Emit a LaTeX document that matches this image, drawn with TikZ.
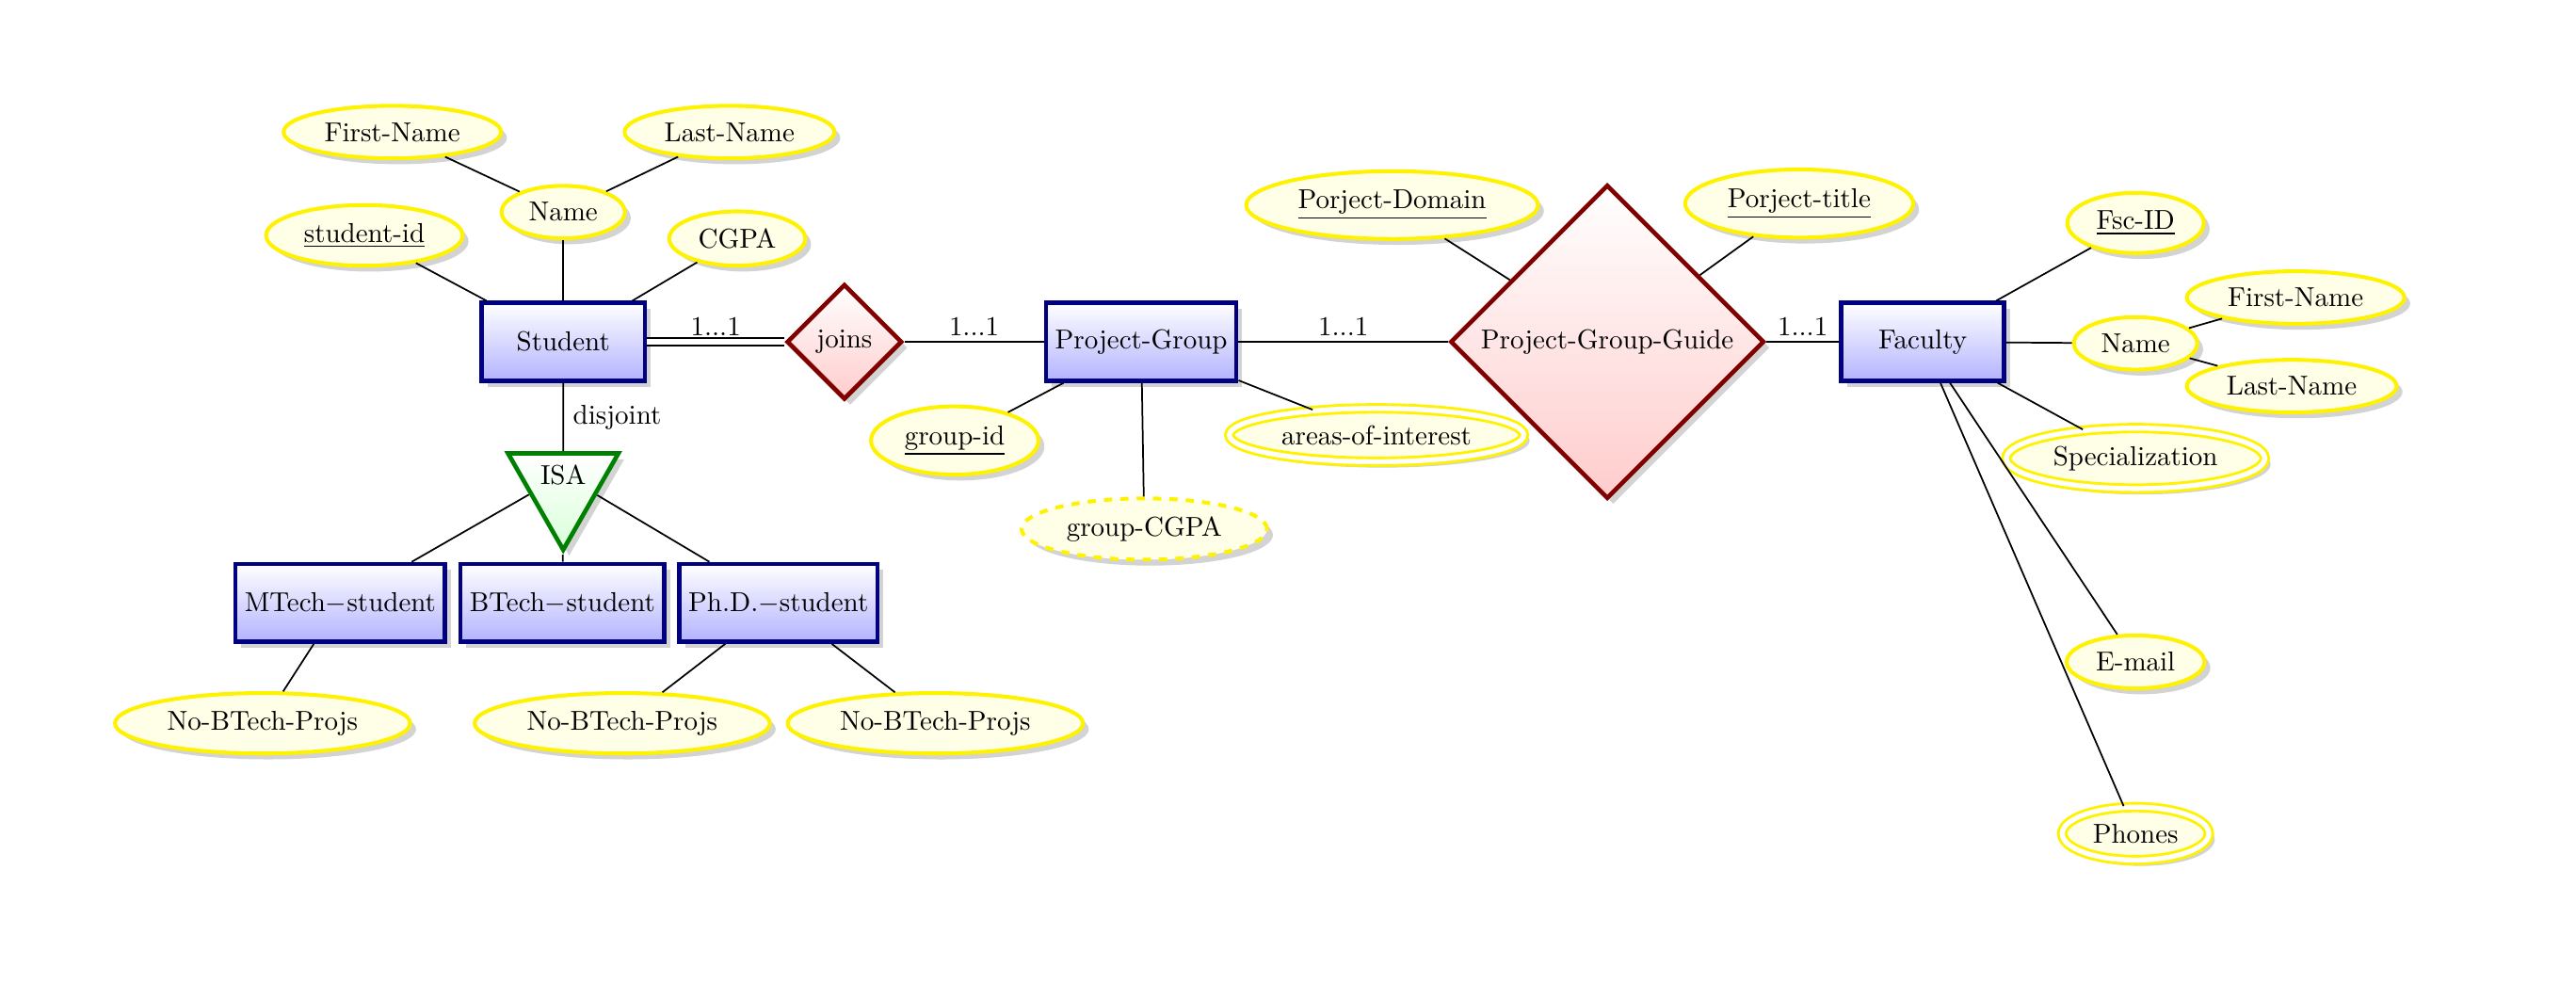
\documentclass[tikz,border=0pt]{standalone}
\usepackage{tikz}
\usetikzlibrary{shapes.geometric, shadows, positioning}

\begin{document}
\begin{tikzpicture}[
  con/.style={semithick},
  entity/.style={rectangle, draw=blue!50!black, line width=1.6pt,
                 top color=white, bottom color=blue!30,
                 drop shadow={opacity=0.35},
                 minimum width=2.1cm, minimum height=1cm},
  attr/.style={ellipse, draw=yellow, line width=1.4pt, fill=yellow!10,
               drop shadow={opacity=0.35}},
  multi/.style={attr, double, double distance=1.8pt, line width=1pt},
  derived/.style={attr, dashed},
  rel/.style={diamond, draw=red!50!black, line width=1.6pt,
              top color=white, bottom color=red!20,
              drop shadow={opacity=0.35}},
  isa/.style={isosceles triangle, isosceles triangle stretches,
              minimum width=1.42cm, minimum height=1.24cm,
              shape border rotate=-90, draw=green!50!black, line width=1.6pt,
              top color=white, bottom color=green!15,
              drop shadow={opacity=0.35}, inner sep=1pt},
  card/.style={above, inner sep=2pt},
]
\useasboundingbox (0,0) rectangle (33.16,-12.65);

\node[entity] (student) at (7.25,-4.40)  {Student};
\node[rel]    (joins)   at (10.87,-4.40) {joins};
\node[entity] (pgroup)  at (14.69,-4.40) {Project-Group};
\node[rel]    (guide)   at (20.69,-4.40) {Project-Group-Guide};
\node[entity] (faculty) at (24.75,-4.40) {Faculty};

\node[attr] (sname)  at (7.25,-2.73) {Name};
\node[attr] (sfirst) at (5.05,-1.70) {First-Name};
\node[attr] (slast)  at (9.39,-1.70) {Last-Name};
\node[attr] (sid)    at (4.69,-3.03) {\underline{student-id}};
\node[attr] (cgpa)   at (9.49,-3.07) {CGPA};

\node[isa, anchor=apex] (isa) at (7.25,-7.15) {ISA};
\node[entity] (mtech) at (4.38,-7.76)  {MTech$-$student};
\node[entity] (btech) at (7.24,-7.76)  {BTech$-$student};
\node[entity] (phd)   at (10.02,-7.76) {Ph.D.$-$student};

\node[attr] (mproj)  at (3.38,-9.31)  {No-BTech-Projs};
\node[attr] (pproja) at (8.01,-9.31)  {No-BTech-Projs};
\node[attr] (pprojb) at (12.04,-9.31) {No-BTech-Projs};

\node[attr]    (gid)   at (12.29,-5.67) {\underline{group-id}};
\node[derived] (gcgpa) at (14.73,-6.81) {group-CGPA};
\node[multi]   (areas) at (17.72,-5.60) {areas-of-interest};

\node[attr] (domain) at (17.92,-2.64) {\underline{Porject-Domain}};
\node[attr] (title)  at (23.16,-2.62) {\underline{Porject-title}};

\node[attr]  (fsc)    at (27.49,-2.87)  {\underline{Fsc-ID}};
\node[attr]  (fname)  at (27.49,-4.42)  {Name};
\node[attr]  (ffirst) at (29.55,-3.83)  {First-Name};
\node[attr]  (flast)  at (29.50,-4.97)  {Last-Name};
\node[multi] (spec)   at (27.49,-5.90)  {Specialization};
\node[attr]  (email)  at (27.49,-8.52)  {E-mail};
\node[multi] (phones) at (27.49,-10.73) {Phones};

\draw[con] (sname) -- (sfirst);
\draw[con] (sname) -- (slast);
\draw[con] (student) -- (sname);
\draw[con] (student) -- (sid);
\draw[con] (student) -- (cgpa);

\draw[con, double, double distance=2pt] (student) -- node[card]{1...1} (joins);
\draw[con] (joins)  -- node[card]{1...1} (pgroup);
\draw[con] (pgroup) -- node[card]{1...1} (guide);
\draw[con] (guide)  -- node[card]{1...1} (faculty);

\draw[con] (student) -- node[right]{disjoint} (isa);
\draw[con] (isa) -- (mtech);
\draw[con] (isa) -- (btech);
\draw[con] (isa) -- (phd);
\draw[con] (mtech) -- (mproj);
\draw[con] (phd)   -- (pproja);
\draw[con] (phd)   -- (pprojb);

\draw[con] (pgroup) -- (gid);
\draw[con] (pgroup) -- (gcgpa);
\draw[con] (pgroup) -- (areas);
\draw[con] (guide)  -- (domain);
\draw[con] (guide)  -- (title);

\draw[con] (faculty) -- (fsc);
\draw[con] (faculty) -- (fname);
\draw[con] (fname)   -- (ffirst);
\draw[con] (fname)   -- (flast);
\draw[con] (faculty) -- (spec);
\draw[con] (faculty) -- (email);
\draw[con] (faculty) -- (phones);

\end{tikzpicture}
\end{document}
